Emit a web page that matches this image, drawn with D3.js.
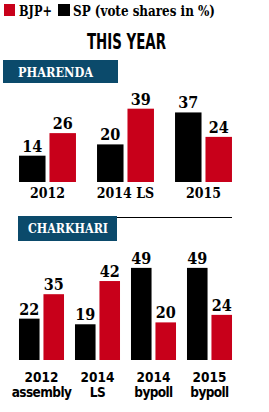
<!DOCTYPE html>
<html>
<head>
<meta charset="utf-8">
<script src="https://cdn.jsdelivr.net/npm/d3@7"></script>
<style>
  html, body { margin: 0; padding: 0; background: #fff; }
  svg { display: block; }
  .serif { font-family: "DejaVu Serif Condensed", "DejaVu Serif", "Liberation Serif", serif; font-weight: bold; }
  .narrow { font-family: "Liberation Sans Narrow", "DejaVu Sans Condensed", "Roboto", sans-serif; font-weight: bold; }
</style>
</head>
<body>
<svg id="chart" width="269" height="412"></svg>
<script>
// ---- data ----
const seriesKeys = ["SP", "BJP+"];
const seriesColors = ["#000000", "#c8001a"];

const pharendaCats = ["2012", "2014 LS", "2015"];
const pharendaSP = [14, 20, 37];
const pharendaBJP = [26, 39, 24];

const charkhariCats = ["2012", "2014", "2014", "2015"];
const charkhariSub = ["assembly", "LS", "bypoll", "bypoll"];
const charkhariSP = [22, 19, 49, 49];
const charkhariBJP = [35, 42, 20, 24];

const svg = d3.select("#chart");
const color = d3.scaleOrdinal().domain(seriesKeys).range(seriesColors);

// ---- legend + title ----
const legend = svg.append("g");
legend.append("rect").attr("x", 4).attr("y", 4).attr("width", 11).attr("height", 12).attr("fill", color("BJP+"));
legend.append("text").attr("class", "serif").attr("x", 19).attr("y", 16)
  .attr("font-size", 15).attr("textLength", 33).attr("lengthAdjust", "spacingAndGlyphs").text("BJP+");
legend.append("rect").attr("x", 58).attr("y", 4).attr("width", 12).attr("height", 12).attr("fill", color("SP"));
legend.append("text").attr("class", "serif").attr("x", 73).attr("y", 16)
  .attr("font-size", 15).attr("textLength", 142).attr("lengthAdjust", "spacingAndGlyphs").text("SP (vote shares in %)");

svg.append("text").attr("class", "narrow")
  .attr("x", 87).attr("y", 49).attr("font-size", 22)
  .attr("textLength", 79).attr("lengthAdjust", "spacingAndGlyphs")
  .text("THIS YEAR");

// ---- panel helper ----
function panel(opts) {
  const g = svg.append("g");

  // header tab
  g.append("rect").attr("x", opts.tab[0]).attr("y", opts.tab[1])
    .attr("width", opts.tab[2]).attr("height", opts.tab[3]).attr("fill", "#0b4a6b");
  g.append("text").attr("class", "serif")
    .attr("x", opts.tabText[0]).attr("y", opts.tabText[1])
    .attr("font-size", 13).attr("fill", "#fff")
    .attr("textLength", opts.tabText[2]).attr("lengthAdjust", "spacingAndGlyphs")
    .text(opts.title);
  if (opts.rule) {
    g.append("line").attr("x1", opts.rule[0]).attr("x2", opts.rule[1])
      .attr("y1", opts.rule[2]).attr("y2", opts.rule[2])
      .attr("stroke", "#000").attr("stroke-width", 1);
  }

  const data = opts.cats.map((c, i) => ({
    idx: i,
    cat: c,
    values: [
      { key: "SP", v: opts.sp[i] },
      { key: "BJP+", v: opts.bjp[i] }
    ]
  }));

  const x0 = d3.scaleBand().domain(d3.range(opts.cats.length))
    .range(opts.xRange).paddingInner(opts.padInner).paddingOuter(opts.padInner / 2);
  const x1 = d3.scaleBand().domain(seriesKeys)
    .range([0, x0.bandwidth()]).paddingInner(opts.subPad);
  const y = d3.scaleLinear().domain([0, 50]).range([opts.base, opts.base - 94]);

  const groups = g.selectAll(".grp").data(data).join("g")
    .attr("transform", d => `translate(${x0(d.idx)},0)`);

  groups.selectAll("rect").data(d => d.values).join("rect")
    .attr("x", d => x1(d.key)).attr("width", x1.bandwidth())
    .attr("y", d => y(d.v)).attr("height", d => y(0) - y(d.v))
    .attr("fill", d => color(d.key));

  groups.selectAll(".val").data(d => d.values).join("text")
    .attr("class", "serif val")
    .attr("x", d => x1(d.key) + x1.bandwidth() / 2)
    .attr("y", d => y(d.v) - 4)
    .attr("text-anchor", "middle").attr("font-size", 16)
    .text(d => d.v);

  groups.append("text")
    .attr("class", opts.labelClass)
    .attr("x", x0.bandwidth() / 2).attr("y", opts.labelY)
    .attr("text-anchor", "middle").attr("font-size", opts.labelSize)
    .text(d => d.cat);

  if (opts.sub) {
    groups.append("text")
      .attr("class", opts.labelClass)
      .attr("x", x0.bandwidth() / 2).attr("y", opts.labelY + 15)
      .attr("text-anchor", "middle").attr("font-size", opts.labelSize)
      .attr("letter-spacing", -0.6)
      .text(d => opts.sub[d.idx]);
  }
}

panel({
  title: "PHARENDA",
  tab: [3, 60, 115, 23],
  tabText: [18, 77, 75],
  cats: pharendaCats, sp: pharendaSP, bjp: pharendaBJP,
  xRange: [8.5, 242.5], padInner: 0.27, subPad: 0.13,
  base: 182,
  labelClass: "serif", labelY: 198, labelSize: 14
});

panel({
  title: "CHARKHARI",
  tab: [18, 216, 99, 25],
  tabText: [28, 233, 80],
  rule: [117, 232, 217.5],
  cats: charkhariCats, sp: charkhariSP, bjp: charkhariBJP, sub: charkhariSub,
  xRange: [13.5, 237.5], padInner: 0.196, subPad: 0.16,
  base: 360,
  labelClass: "narrow", labelY: 382, labelSize: 13.5
});
</script>
</body>
</html>
